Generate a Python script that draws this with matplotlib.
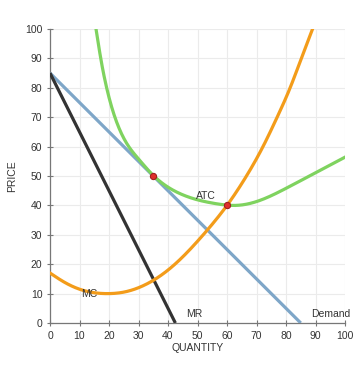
import matplotlib
matplotlib.use("Agg")
import matplotlib.pyplot as plt
import numpy as np

plt.rcParams['font.family'] = ['Liberation Sans', 'DejaVu Sans']

# Data
demand_x = [0, 85]
demand_y = [85, 0]
mr_x = [0, 42.5]
mr_y = [85, 0]
mc_x = [0, 5, 10, 15, 20, 25, 30, 35, 40, 45, 50, 55, 60, 66.6, 72.2, 77, 81.4, 85.2, 89]
mc_y = [17, 13.8, 11.5, 10.3, 10, 10.5, 12, 14.5, 18, 22.5, 27.8, 33.6, 40, 50, 60, 70, 80, 90, 100]
atc_x = [15.6, 17.2, 19.2, 22, 26.5, 30, 35, 40, 45, 50, 55, 60, 63, 70, 80, 90, 100]
atc_y = [100, 90, 80, 70, 60.3, 55.8, 50.2, 46.2, 43.6, 41.9, 40.8, 40.1, 40, 41.3, 45.8, 51.1, 56.4]
pts_x = [35, 60]
pts_y = [50, 40]
xticks = list(range(0, 101, 10))
yticks = list(range(0, 101, 10))


def smooth(xs, ys, n=400):
    """Natural cubic spline through the given points (drawing only)."""
    x = np.asarray(xs, float)
    y = np.asarray(ys, float)
    m = len(x)
    h = np.diff(x)
    A = np.zeros((m, m))
    r = np.zeros(m)
    A[0, 0] = A[-1, -1] = 1
    for i in range(1, m - 1):
        A[i, i - 1] = h[i - 1]
        A[i, i] = 2 * (h[i - 1] + h[i])
        A[i, i + 1] = h[i]
        r[i] = 6 * ((y[i + 1] - y[i]) / h[i] - (y[i] - y[i - 1]) / h[i - 1])
    M = np.linalg.solve(A, r)
    xx = np.linspace(x[0], x[-1], n)
    idx = np.clip(np.searchsorted(x, xx) - 1, 0, m - 2)
    x0, x1 = x[idx], x[idx + 1]
    hh = x1 - x0
    a = (x1 - xx) / hh
    b = (xx - x0) / hh
    yy = (a * y[idx] + b * y[idx + 1]
          + ((a ** 3 - a) * M[idx] + (b ** 3 - b) * M[idx + 1]) * hh ** 2 / 6)
    return xx, yy


fig = plt.figure(figsize=(3.64, 3.69), dpi=100)
ax = fig.add_axes([50/364, 1-323/369, 295/364, 294/369])

ax.plot(demand_x, demand_y, color="#7ea6c8", lw=2.3, solid_capstyle="butt", zorder=3)
ax.plot(mr_x, mr_y, color="#333333", lw=2.3, solid_capstyle="butt", zorder=3)
ax.plot(*smooth(mc_x, mc_y), color="#f39c1a", lw=2.3, zorder=4)
ax.plot(*smooth(atc_x, atc_y), color="#7fd35f", lw=2.3, zorder=4)
ax.scatter(pts_x, pts_y, s=20, color="#e0302a", edgecolor="#a02020", lw=0.8, zorder=6)

ax.set_xlim(0, 100)
ax.set_ylim(0, 100)
ax.set_xticks(xticks)
ax.set_yticks(yticks)
ax.tick_params(labelsize=7.5, colors="#333333", direction="inout", length=5, width=0.8, color="#777777", pad=3)
ax.grid(True, color="#ebebeb", lw=0.8)
ax.set_axisbelow(True)
for s in ["top", "right"]:
    ax.spines[s].set_visible(False)
for s in ["left", "bottom"]:
    ax.spines[s].set_color("#777777")
    ax.spines[s].set_linewidth(0.9)

ax.set_xlabel("QUANTITY", fontsize=7.5, color="#333333", labelpad=2)
ax.set_ylabel("PRICE", fontsize=7.5, color="#333333", labelpad=6)

ax.text(10.5, 9.7, "MC", fontsize=7.5, color="#333333", ha="left", va="center", zorder=7)
ax.text(49.5, 43.3, "ATC", fontsize=7.5, color="#333333", ha="left", va="center", zorder=7)
ax.text(46, 3, "MR", fontsize=7.5, color="#333333", ha="left", va="center", zorder=7)
ax.text(88.5, 3, "Demand", fontsize=7.5, color="#333333", ha="left", va="center", zorder=7)

fig.savefig("out.png", dpi=100)
